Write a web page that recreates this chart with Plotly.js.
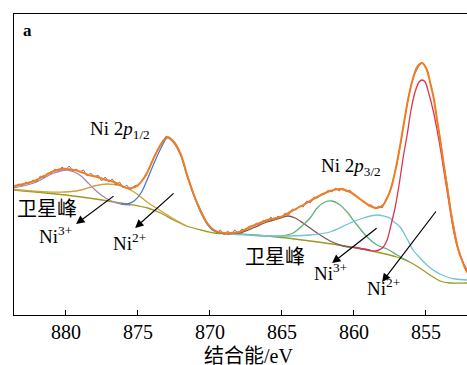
<!DOCTYPE html>
<html>
<head>
<meta charset="utf-8">
<script src="https://cdn.plot.ly/plotly-3.0.1.min.js"></script>
<style>
html,body{margin:0;padding:0;overflow:hidden;background:#fff;}
#chart{width:482px;height:365px;}
</style>
</head>
<body>
<div id="chart"></div>
<script>
// Binding energy (eV) and intensity (a.u.)
const rawX = [883.5,883.25,883,882.75,882.5,882.25,882,881.75,881.5,881.25,881,880.75,880.5,880.25,880,879.75,879.5,879.25,879,878.75,878.5,878.25,878,877.75,877.5,877.25,877,876.75,876.5,876.25,876,875.75,875.5,875.25,875,874.75,874.5,874.25,874,873.75,873.5,873.25,873,872.75,872.5,872.25,872,871.75,871.5,871.25,871,870.75,870.5,870.25,870,869.75,869.5,869.25,869,868.75,868.5,868.25,868,867.75,867.5,867.25,867,866.75,866.5,866.25,866,865.75,865.5,865.25,865,864.75,864.5,864.25,864,863.75,863.5,863.25,863,862.75,862.5,862.25,862,861.75,861.5,861.25,861,860.75,860.5,860.25,860,859.75,859.5,859.25,859,858.75,858.5,858.25,858,857.75,857.5,857.25,857,856.75,856.5,856.25,856,855.75,855.5,855.25,855,854.75,854.5,854.25,854,853.75,853.5,853.25,853,852.75,852.5,852.25,852,851.75];
const rawY = [128,131,129,133,132,135,133,139,137,142,141,146,144,148,145,149,144,146,143,145,139,142,138,140,134,138,133,136,130,133,127,130,125,129,130,133,139,145,153,161,167,174,179,176,173,167,160,149,137,127,117,109,101,94,89,86,82,85,80,84,81,85,82,86,84,89,88,92,90,95,93,98,95,99,97,102,100,106,105,109,108,114,112,118,117,121,121,125,123,127,124,127,123,125,120,119,115,113,110,110,106,109,107,116,122,135,150,170,193,213,230,241,248,252,249,237,222,201,178,151,131,104,85,67,57,46,41,38];

const fitX = [883.58,882.9,882.19,881.5,880.8,880.3,879.9,879.4,878.92,878.4,877.81,877.2,876.63,876.2,875.73,875.4,875.03,874.7,874.34,873.85,873.37,872.95,872.47,871.98,871.56,871.08,870.59,870.17,869.69,868.99,868.58,867.95,867.19,866.5,866.0,865.1,864.41,863.51,862.53,861.63,860.94,860.24,859.55,858.85,858.37,857.95,857.6,857.33,857.12,856.91,856.7,856.49,856.22,855.94,855.59,855.24,854.9,854.69,854.41,854.2,853.92,853.65,853.37,853.09,852.81,852.53,852.12,851.6];
const fitY = [129,131,134,139,144,146,146,145,143,140,138,135,133,130,127,127,129,134,142,158,171,178,173,160,140,120,103,92,85,82,82,83,88,92,95,98,103,110,118,124,126,123,116,109,107,110,119,130,143,158,175,193,215,233,248,252,245,233,215,195,169,142,115,90,70,57,43,36];

const bgX = [883.6,880.0,878.9,876.6,874.3,873.4,872.5,871.6,870.6,869.7,868.0,866.0,863.0,860.2,858.4,857.0,856.1,855.4,854.7,854.0,853.3,852.1,851.1];
const bgY = [125,120,118,113,107,102,95,89,85,82,81,79,74,68,63,58,53,47,40,34,32,32,32];

const satAX = [883.6,882.19,880.8,879.9,879.4,878.92,878.5,878.02,877.53,876.84,876.15,875.5];
const satAY = [127,132,142,145,143,139,133,126,120,114,111,110];

const satBX = [883.6,881.28,880.1,878.92,878.02,877.12,876.15,875.24,874.34,873.37,872.47,871.6];
const satBY = [125.5,123,123,125,129,131,129,123,113,104,96,89];

const p12X = [876.15,875.73,875.24,874.76,874.34,873.85,873.37,872.95,872.47,871.98,871.56,871.08,870.59,870.17,869.69,868.99];
const p12Y = [111,111,114,122,135,152,167,177,172,159,139,119,102,91,84,82];

const satCX = [869.2,868.58,867.88,866.98,866.01,865.1,864.55,864.06,863.51,863.02,862.53,861.63,860.73,859.76,858.85];
const satCY = [82,81,82,87,93,97,99,97,92,87,82,74,69,67,65];

const ni3X = [867.2,865.1,864.2,863.51,863.02,862.53,861.98,861.49,860.94,860.45,859.76,859.06,858.37,857.67,856.98,856.1];
const ni3Y = [80,79,82,90,97,107,113,114,110,103,90,78,70,66,60,53];

const cyX = [868.6,865.8,864.4,863.0,861.63,860.24,859.34,858.37,857.47,857.26,856.77,856.28,855.87,855.38,854.9,854.48,853.99,853.51,852.95,852.12,851.6];
const cyY = [81,79,79,80,83,92,97,100,97,94,88,76,65,57,50,45,41,38,36,35,35];

const ni2X = [860.0,859.0,858.5,858.0,857.67,857.4,857.12,856.84,856.56,856.28,856.01,855.73,855.45,855.24,855.03,854.76,854.48,854.2,853.92,853.65,853.37,853.09,852.81,852.53,852.12,851.6];
const ni2Y = [68,65,64,67,75,90,107,130,157,180,205,223,233,235,233,221,205,185,162,137,112,87,69,57,45,35];

const tickVals = [880,875,870,865,860,855];
const tickText = ['880','875','870','865','860','855'];
const xTitle = '结合能/eV';

function comp(x, y, color, w) {
  return {x: x, y: y, type: 'scatter', mode: 'lines',
    line: {color: color, width: w || 1.3, shape: 'spline', smoothing: 0.8},
    hoverinfo: 'skip', showlegend: false};
}

const traces = [
  comp(bgX, bgY, '#9c9a22'),
  comp(satAX, satAY, '#a184c8'),
  comp(satBX, satBY, '#c9a33c'),
  comp(p12X, p12Y, '#4a7acb'),
  comp(satCX, satCY, '#7d5656'),
  comp(ni3X, ni3Y, '#62b07a'),
  comp(cyX, cyY, '#6fc4d6'),
  comp(ni2X, ni2Y, '#e0344e'),
  {x: rawX, y: rawY, type: 'scatter', mode: 'lines', line: {color: '#7f7f7f', width: 1},
   hoverinfo: 'skip', showlegend: false},
  comp(fitX, fitY, '#f07d22', 2)
];

const serif = '"Liberation Serif", "DejaVu Serif", serif';
const cjk = '"Liberation Serif", "Noto Sans CJK SC", serif';

function label(text, x, y, size, fam) {
  return {x: x, y: y, xref: 'x', yref: 'y', text: text, showarrow: false,
    xanchor: 'center', yanchor: 'middle', font: {family: fam || serif, size: size || 19, color: '#000'}};
}
function arrow(x, y, ax, ay) {
  return {x: x, y: y, xref: 'x', yref: 'y', ax: ax, ay: ay, text: '', showarrow: true,
    arrowhead: 2, arrowsize: 1.4, arrowwidth: 1.2, arrowcolor: '#000', standoff: 0};
}

// x tick labels drawn at the axis tick positions, below the plot area
const tickLabels = tickVals.map(function (v, i) {
  return {x: v, y: 0, xref: 'x', yref: 'paper', yshift: -17, text: tickText[i], showarrow: false,
    xanchor: 'center', yanchor: 'middle', font: {family: serif, size: 20, color: '#000'}};
});
const titleLabel = {x: 0.5, y: 0, xref: 'paper', yref: 'paper', yshift: -41, text: xTitle,
  showarrow: false, xanchor: 'center', yanchor: 'middle', font: {family: cjk, size: 20, color: '#000'}};

const layout = {
  width: 482, height: 365,
  margin: {l: 14, r: 0, t: 14, b: 50},
  paper_bgcolor: '#fff', plot_bgcolor: '#fff',
  showlegend: false,
  font: {family: serif, size: 20, color: '#000'},
  xaxis: {
    range: [883.58, 851.08], autorange: false,
    tickvals: tickVals, ticktext: tickText, showticklabels: false,
    ticks: 'inside', ticklen: 5, tickwidth: 1, tickcolor: '#000',
    showline: true, linecolor: '#000', linewidth: 1.3, mirror: true,
    showgrid: false, zeroline: false, automargin: false
  },
  yaxis: {
    range: [0, 301], autorange: false,
    showticklabels: false, ticks: '',
    showline: true, linecolor: '#000', linewidth: 1.3, mirror: true,
    showgrid: false, zeroline: false, automargin: false
  },
  annotations: [
    label('<b>a</b>', 882.67, 285, 17),
    label('Ni 2<i>p</i><sub>1/2</sub>', 876.22, 185, 19),
    label('Ni 2<i>p</i><sub>3/2</sub>', 860.17, 148, 19),
    label('卫星峰', 881.28, 106, 20, cjk),
    label('卫星峰', 865.45, 58, 20, cjk),
    label('Ni<sup>3+</sup>', 880.73, 80, 19),
    label('Ni<sup>2+</sup>', 875.59, 73, 19),
    label('Ni<sup>3+</sup>', 861.63, 43, 19),
    label('Ni<sup>2+</sup>', 857.95, 28, 19),
    arrow(879.27, 91, 39, -29),
    arrow(875.17, 87, 40, -36),
    arrow(861.49, 52, 46, -36),
    arrow(858.02, 33, 55, -72),
    titleLabel
  ].concat(tickLabels)
};

Plotly.newPlot('chart', traces, layout, {staticPlot: true, displayModeBar: false});
</script>
</body>
</html>
